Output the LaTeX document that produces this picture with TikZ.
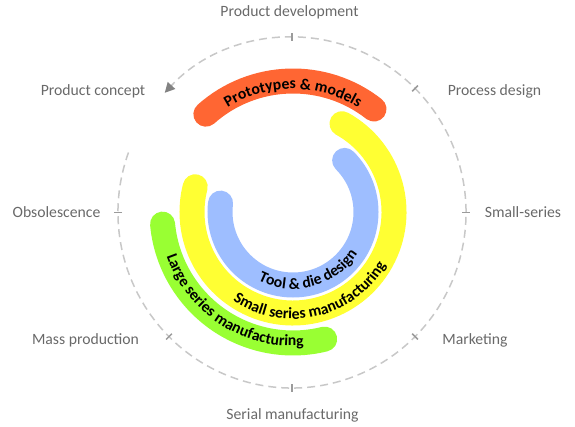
\documentclass[tikz,border=0pt]{standalone}
\usepackage{fontspec}
\setmainfont{Carlito}
\usetikzlibrary{decorations.text,arrows.meta}
\definecolor{bandorange}{RGB}{255,102,51}
\definecolor{bandyellow}{RGB}{255,255,51}
\definecolor{bandblue}{RGB}{158,190,255}
\definecolor{bandgreen}{RGB}{153,255,51}
\definecolor{labelgray}{RGB}{105,105,105}
\definecolor{dashgray}{RGB}{200,200,200}
\definecolor{tickgray}{RGB}{155,155,155}
\definecolor{arrowgray}{RGB}{130,130,130}
\begin{document}
\begin{tikzpicture}[x=1pt,y=1pt,
  band/.style={line width=25pt, line cap=round},
  lbl/.style={text=labelgray, font=\fontsize{15.7}{18}\selectfont, inner sep=0pt},
  cyc/.style={draw=dashgray, line width=1.5pt, dash pattern=on 8pt off 5pt},
  tickmark/.style={draw=tickgray, line width=1.5pt},
  arctext/.style={decorate, decoration={text along path, text align=center, text color=black, text={#1}}}
]
\useasboundingbox (0,0) rectangle (575,-427);
\coordinate (C) at (293,-212);
\coordinate (D) at (292,-212.5);

% dashed cycle with arrow
\coordinate (cycstart) at ([shift={(160:174 and 175.5)}]D);
\draw[cyc, -{Triangle[length=10pt,width=10pt,color=arrowgray]}] (cycstart) arc[start angle=160, end angle=497, x radius=174, y radius=175.5];

% ticks
\foreach \a/\n in {90/t1,45/t2,0/t3,-45/t4,-90/t5,-135/t6,180/t7}{
  \coordinate (\n i) at ([shift={(\a:170 and 171.5)}]D);
  \coordinate (\n o) at ([shift={(\a:178 and 179.5)}]D);
  \draw[tickmark] (\n i) -- (\n o);
}

% labels
\node[lbl] (pdev) at (289.5,-12.5) {Product development};
\node[lbl] (pcon) at (93,-91) {Product concept};
\node[lbl] (pdes) at (494.5,-91) {Process design};
\node[lbl] (obs) at (56.5,-212) {Obsolescence};
\node[lbl] (sms) at (523,-212) {Small-series};
\node[lbl] (mass) at (85.5,-340.5) {Mass production};
\node[lbl] (mkt) at (475,-340.5) {Marketing};
\node[lbl] (ser) at (292.5,-415.5) {Serial manufacturing};

% bands
\draw[band, bandblue] ([shift={(45:73)}]C) arc[start angle=45, end angle=-187, radius=73];
\draw[band, bandyellow] ([shift={(61:101)}]C) arc[start angle=61, end angle=-194.5, radius=101];
\draw[band, bandgreen] ([shift={(-174.7:131)}]C) arc[start angle=-174.7, end angle=-76, radius=131];
\draw[band, bandorange] ([shift={(131.7:131)}]C) arc[start angle=131.7, end angle=51.8, radius=131];

% band texts
\path[arctext={|\bfseries\fontsize{15.7}{18}\selectfont|Prototypes {\&} models}] ([shift={(180:123)}]C) arc[start angle=180, end angle=0, radius=123];
\path[arctext={|\bfseries\fontsize{15.7}{18}\selectfont|Tool {\&} die design}] ([shift={(-165:77)}]C) arc[start angle=-165, end angle=15, radius=77];
\path[arctext={|\bfseries\fontsize{15.7}{18}\selectfont|Small series manufacturing}] ([shift={(-167:107)}]C) arc[start angle=-167, end angle=13, radius=107];
\path[arctext={|\bfseries\fontsize{15.7}{18}\selectfont|Large series manufacturing}] ([shift={(-213:134)}]C) arc[start angle=-213, end angle=-33, radius=134];
\end{tikzpicture}
\end{document}
